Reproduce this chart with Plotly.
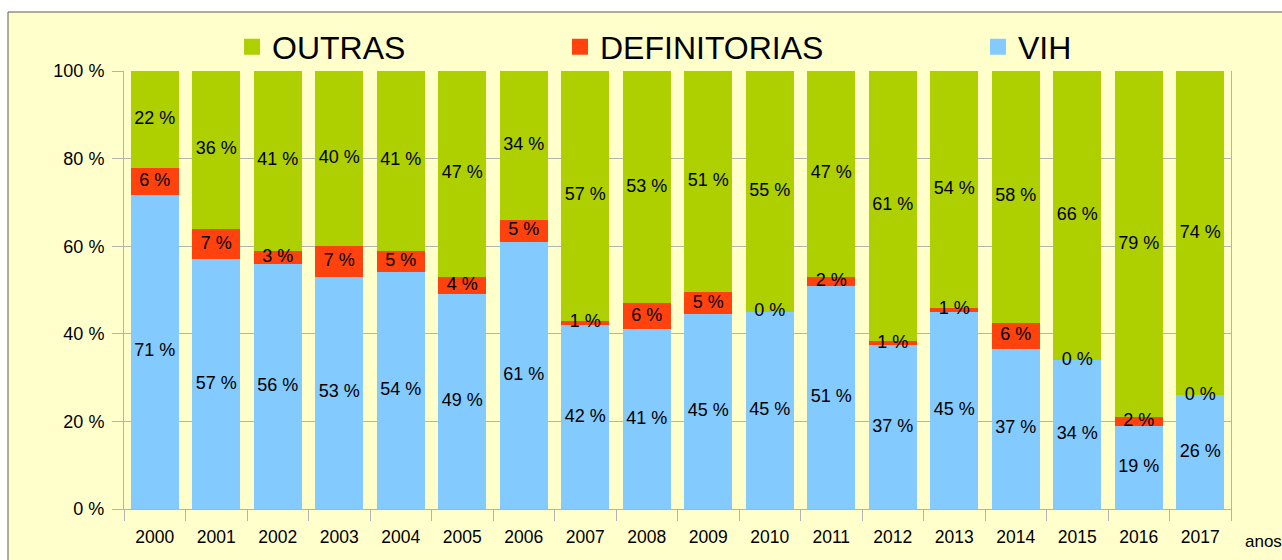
import numpy as np
import plotly.graph_objects as go

# Yearly share of deaths by cause group (percent labels per bar)
years = ["2000", "2001", "2002", "2003", "2004", "2005", "2006", "2007", "2008",
         "2009", "2010", "2011", "2012", "2013", "2014", "2015", "2016", "2017"]
vih = [71, 57, 56, 53, 54, 49, 61, 42, 41, 45, 45, 51, 37, 45, 37, 34, 19, 26]
definitorias = [6, 7, 3, 7, 5, 4, 5, 1, 6, 5, 0, 2, 1, 1, 6, 0, 2, 0]
outras = [22, 36, 41, 40, 41, 47, 34, 57, 53, 51, 55, 47, 61, 54, 58, 66, 79, 74]

y_ticks = [0, 20, 40, 60, 80, 100]

C_VIH = "#83caff"
C_DEF = "#ff420e"
C_OUT = "#aecf00"
BG = "#ffffcc"
GRID = "#b3b3b3"
FONT = "Liberation Sans, Arial, sans-serif"

# plot area in pixels
W, H = 1282, 560
L, R, T, B = 124, 51, 71, 51
PW, PH = W - L - R, H - T - B


def px_x(px):
    return (px - L) / PW


def px_y(py):
    return (H - B - py) / PH


series = [
    ("VIH", vih, C_VIH, "legend3"),
    ("DEFINITORIAS", definitorias, C_DEF, "legend2"),
    ("OUTRAS", outras, C_OUT, "legend"),
]

fig = go.Figure()

# stacked bars, normalised to 100 % per year
for name, vals, color, leg in series:
    fig.add_trace(go.Bar(
        x=years, y=vals, name=name, showlegend=False,
        marker=dict(color=color, line=dict(width=0)),
        hoverinfo="skip",
    ))

# value labels centred in each segment, drawn above all bars
totals = np.sum([np.array(s[1], dtype=float) for s in series], axis=0)
bottom = np.zeros(len(years))
lab_x, lab_y, lab_t = [], [], []
for name, vals, color, leg in series:
    v = np.array(vals, dtype=float)
    centre = (bottom + v / 2) / totals * 100
    lab_x += years
    lab_y += centre.tolist()
    lab_t += [f"{int(val)} %" for val in vals]
    bottom = bottom + v
fig.add_trace(go.Scatter(
    x=lab_x, y=lab_y, text=lab_t, mode="text", showlegend=False,
    textposition="middle center", cliponaxis=False, hoverinfo="skip",
    textfont=dict(family=FONT, size=18, color="#000000"),
))

# legend entries with larger square swatches
for name, vals, color, leg in series:
    fig.add_trace(go.Scatter(
        x=[None], y=[None], name=name, legend=leg, mode="markers",
        marker=dict(symbol="square", size=20, color=color),
        showlegend=True, hoverinfo="skip",
    ))

legend_common = dict(
    orientation="h", yanchor="middle", xanchor="left",
    bgcolor="rgba(0,0,0,0)", borderwidth=0, itemsizing="trace",
    font=dict(family=FONT, size=32, color="#000000"),
)

fig.update_layout(
    width=W, height=H,
    margin=dict(l=L, r=R, t=T, b=B, autoexpand=False),
    barmode="stack", barnorm="percent", bargap=0.22,
    paper_bgcolor="#ffffff", plot_bgcolor="rgba(0,0,0,0)",
    showlegend=True,
    font=dict(family=FONT, size=18, color="#000000"),
    legend=dict(x=px_x(232), y=px_y(47), **legend_common),
    legend2=dict(x=px_x(560), y=px_y(47), **legend_common),
    legend3=dict(x=px_x(978), y=px_y(47), **legend_common),
    xaxis=dict(
        type="category", range=[-0.5, len(years) - 0.5],
        tickson="boundaries", ticks="outside", ticklen=11,
        ticklabelstandoff=12,
        tickcolor=GRID, showline=True, linecolor=GRID, linewidth=1,
        showgrid=False, tickfont=dict(family=FONT, size=17.5, color="#000000"),
        fixedrange=True,
    ),
    yaxis=dict(
        range=[0, 100], tickmode="array", tickvals=y_ticks,
        ticktext=[f"{v} %" for v in y_ticks],
        ticks="outside", ticklen=11, ticklabelstandoff=4, tickcolor=GRID,
        showline=True, linecolor=GRID, linewidth=1, mirror=True,
        showgrid=True, gridcolor=GRID, gridwidth=1, zeroline=False,
        tickfont=dict(family=FONT, size=18, color="#000000"),
        fixedrange=True,
    ),
    shapes=[dict(
        type="rect", xref="paper", yref="paper", layer="below",
        x0=px_x(8), y0=-0.4, x1=1.3, y1=px_y(12),
        fillcolor=BG, line=dict(color="#5a5a5a", width=1),
    )],
    annotations=[dict(
        text="anos", xref="paper", yref="paper", showarrow=False,
        x=px_x(1243), y=px_y(541), xanchor="left", yanchor="middle",
        font=dict(family=FONT, size=17, color="#000000"),
    )],
)

fig.write_html("out.html")
